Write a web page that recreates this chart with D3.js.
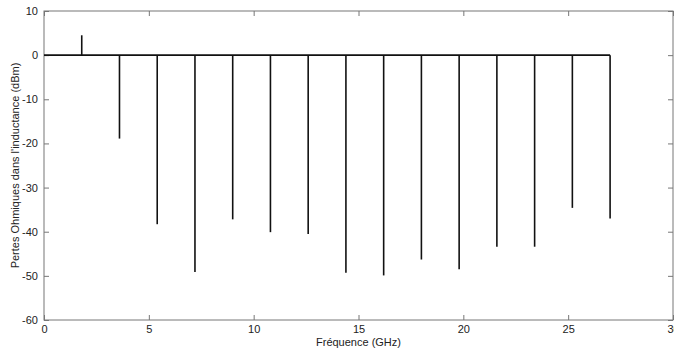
<!DOCTYPE html>
<html>
<head>
<meta charset="utf-8">
<script src="https://cdn.jsdelivr.net/npm/d3@7"></script>
<style>
  body { margin: 0; background: #fff; overflow: hidden; }
  svg { display: block; font-family: "Liberation Sans", Arial, sans-serif; }
  .axis text { font-size: 11px; fill: #222; }
  .axis path, .axis line { stroke: #777; }
</style>
</head>
<body>
<script>
// frequencies (GHz) and losses (dBm)
var freqs = [1.8, 3.6, 5.4, 7.2, 9.0, 10.8, 12.6, 14.4, 16.2, 18.0, 19.8, 21.6, 23.4, 25.2, 27.0];
var pertes = [4.5, -18.9, -38.3, -49.1, -37.2, -40.1, -40.5, -49.3, -49.9, -46.3, -48.5, -43.4, -43.4, -34.6, -37.0];
var xTicks = [0, 5, 10, 15, 20, 25, 30];
var yTicks = [10, 0, -10, -20, -30, -40, -50, -60];

var ww = 674, hh = 351
  , margin = {top: 11, right: 1, bottom: 31, left: 44}
  , width = ww - margin.left - margin.right
  , height = hh - margin.top - margin.bottom;

var svgm = d3.select('body').append('svg').attr('width', ww).attr('height', hh);
var svg = svgm.append('g').attr('transform', `translate(${margin.left},${margin.top})`);

var x = d3.scaleLinear().domain([0, 30]).range([0, width])
  , y = d3.scaleLinear().domain([-60, 10]).range([height, 0]);

// box
svg.append('rect').attr('width', width).attr('height', height)
   .attr('fill', 'none').attr('stroke', '#777');

// matlab style inward ticks on all sides, plain hyphen for negatives
var fmt = d => String(d);
var xAxis = d3.axisBottom(x).tickValues(xTicks).tickSize(-5).tickPadding(5).tickFormat(fmt)
  , yAxis = d3.axisLeft(y).tickValues(yTicks).tickSize(-5).tickPadding(6).tickFormat(fmt);

svg.append('g').attr('class', 'axis').attr('transform', `translate(0,${height})`).call(xAxis)
   .call(g => g.select('.domain').remove());
svg.append('g').attr('class', 'axis').call(yAxis)
   .call(g => g.select('.domain').remove());
svg.append('g').attr('class', 'axis')
   .call(d3.axisTop(x).tickValues(xTicks).tickSize(-5).tickFormat(''))
   .call(g => g.select('.domain').remove());
svg.append('g').attr('class', 'axis').attr('transform', `translate(${width},0)`)
   .call(d3.axisRight(y).tickValues(yTicks).tickSize(-5).tickFormat(''))
   .call(g => g.select('.domain').remove());

// baseline
svg.append('line')
   .attr('x1', x(0)).attr('x2', x(d3.max(freqs)))
   .attr('y1', y(0)).attr('y2', y(0))
   .attr('stroke', '#111').attr('stroke-width', 1.6);

// stems
svg.append('g').selectAll('line').data(freqs).enter().append('line')
   .attr('x1', d => x(d)).attr('x2', d => x(d))
   .attr('y1', y(0)).attr('y2', (d, i) => y(pertes[i]))
   .attr('stroke', '#111').attr('stroke-width', 1.6);

// labels
svgm.append('text').attr('x', margin.left + width / 2).attr('y', 346)
   .attr('text-anchor', 'middle').style('font-size', '11px').attr('fill', '#222')
   .text('Fréquence (GHz)');
svgm.append('text').attr('transform', `translate(19,${margin.top + height / 2}) rotate(-90)`)
   .attr('text-anchor', 'middle').style('font-size', '11px').attr('fill', '#222')
   .text("Pertes Ohmiques dans l'inductance (dBm)");
</script>
</body>
</html>
